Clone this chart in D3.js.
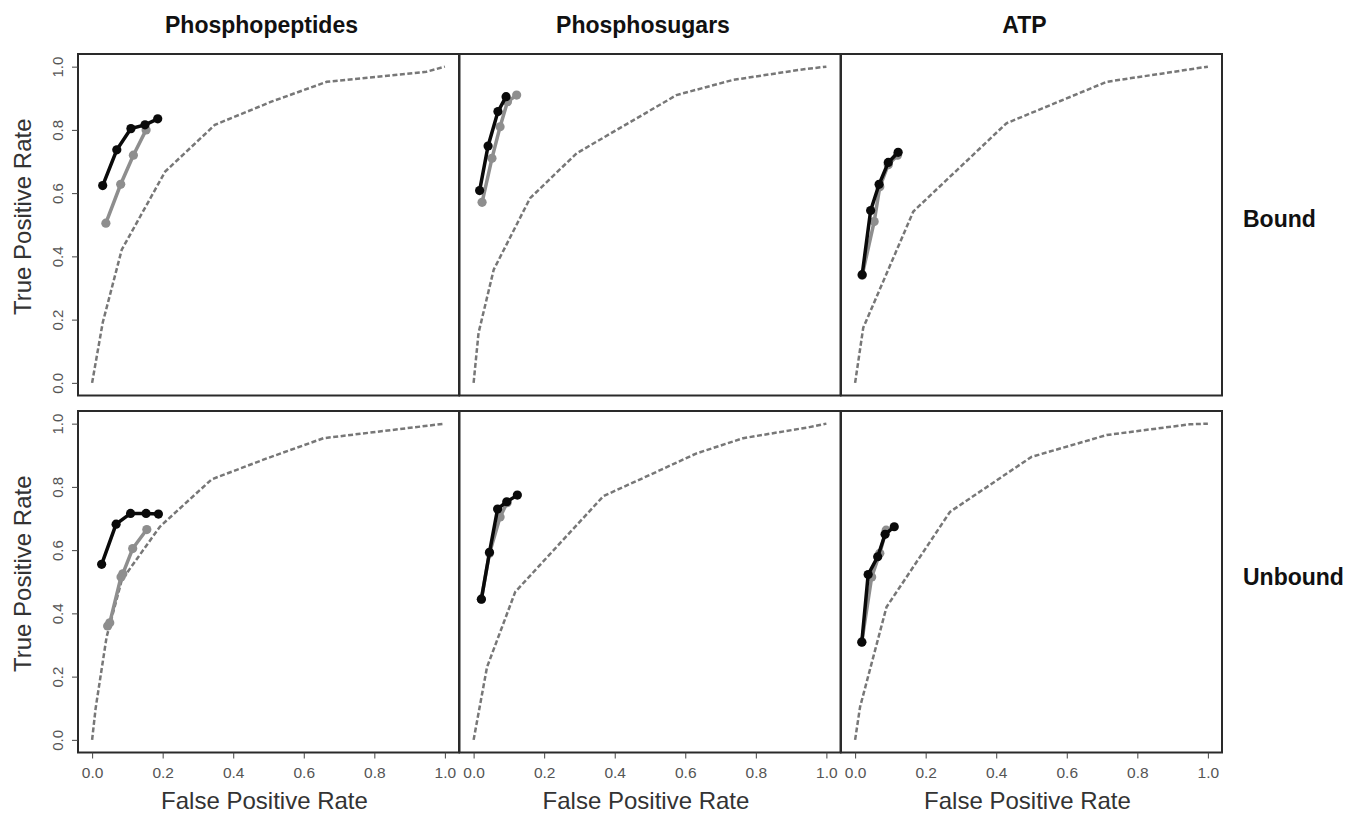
<!DOCTYPE html>
<html>
<head>
<meta charset="utf-8">
<script src="https://cdn.jsdelivr.net/npm/d3@7"></script>
<style>
  body { margin: 0; background: #fff; }
  svg { display: block; font-family: "Liberation Sans", Arial, Helvetica, sans-serif; }
</style>
</head>
<body>
<div id="chart"></div>
<script>
// column / row labels
const columns = ['Phosphopeptides', 'Phosphosugars', 'ATP'];
const rows = ['Bound', 'Unbound'];
const axisTicks = [0, 0.2, 0.4, 0.6, 0.8, 1.0];

// [false positive rate, true positive rate] pairs
// Phosphopeptides
const pepBoundBlack = [[0.03, 0.624], [0.07, 0.737], [0.11, 0.804], [0.15, 0.816], [0.186, 0.835]];
const pepBoundGray = [[0.039, 0.505], [0.081, 0.628], [0.117, 0.72], [0.153, 0.80]];
const pepBoundRandom = [[0, 0], [0.03, 0.19], [0.084, 0.421], [0.207, 0.668], [0.348, 0.816], [0.51, 0.89], [0.665, 0.952], [0.948, 0.984], [1, 1]];
const pepUnboundBlack = [[0.027, 0.555], [0.068, 0.682], [0.109, 0.716], [0.153, 0.716], [0.188, 0.714]];
const pepUnboundGray = [[0.044, 0.36], [0.05, 0.37], [0.082, 0.515], [0.087, 0.525], [0.115, 0.605], [0.155, 0.665]];
const pepUnboundRandom = [[0, 0], [0.01, 0.1], [0.041, 0.325], [0.084, 0.505], [0.192, 0.674], [0.339, 0.824], [0.495, 0.89], [0.656, 0.954], [1, 1]];

// Phosphosugars
const sugBoundBlack = [[0.017, 0.608], [0.041, 0.749], [0.069, 0.858], [0.092, 0.905]];
const sugBoundGray = [[0.024, 0.571], [0.052, 0.71], [0.075, 0.81], [0.096, 0.889], [0.122, 0.91]];
const sugBoundRandom = [[0, 0], [0.014, 0.158], [0.057, 0.358], [0.16, 0.584], [0.292, 0.726], [0.575, 0.91], [0.735, 0.958], [0.924, 0.99], [1, 1]];
const sugUnboundBlack = [[0.022, 0.445], [0.045, 0.593], [0.068, 0.73], [0.094, 0.753], [0.124, 0.774]];
const sugUnboundGray = [[0.022, 0.445], [0.045, 0.59], [0.075, 0.705], [0.095, 0.75]];
const sugUnboundRandom = [[0, 0], [0.038, 0.23], [0.118, 0.468], [0.368, 0.771], [0.5, 0.838], [0.632, 0.906], [0.764, 0.954], [0.952, 0.989], [1, 1]];

// ATP
const atpBoundBlack = [[0.02, 0.342], [0.044, 0.545], [0.068, 0.628], [0.094, 0.697], [0.122, 0.729]];
const atpBoundGray = [[0.02, 0.34], [0.054, 0.51], [0.07, 0.62], [0.094, 0.69], [0.12, 0.72]];
const atpBoundRandom = [[0, 0], [0.023, 0.174], [0.165, 0.542], [0.429, 0.821], [0.713, 0.952], [1, 1]];
const atpUnboundBlack = [[0.019, 0.309], [0.037, 0.523], [0.064, 0.579], [0.085, 0.65], [0.111, 0.674]];
const atpUnboundGray = [[0.019, 0.31], [0.047, 0.515], [0.07, 0.59], [0.088, 0.663]];
const atpUnboundRandom = [[0, 0], [0.014, 0.104], [0.089, 0.42], [0.269, 0.721], [0.5, 0.895], [0.713, 0.964], [0.949, 0.998], [1, 1]];

const panels = [
    [pepBoundRandom, pepBoundGray, pepBoundBlack],
    [sugBoundRandom, sugBoundGray, sugBoundBlack],
    [atpBoundRandom, atpBoundGray, atpBoundBlack],
    [pepUnboundRandom, pepUnboundGray, pepUnboundBlack],
    [sugUnboundRandom, sugUnboundGray, sugUnboundBlack],
    [atpUnboundRandom, atpUnboundGray, atpUnboundBlack]
];

const width = 1351;
const height = 813;
const colLeft = [78, 459.5, 841];
const panelW = 381;
const rowTop = [54, 411];
const panelH = 341.5;

const svg = d3.select('#chart')
    .append('svg')
    .attr('width', width)
    .attr('height', height);

const line = d3.line();

panels.forEach((series, i) => {
    const col = i % 3;
    const row = Math.floor(i / 3);
    const left = colLeft[col];
    const top = rowTop[row];

    const x = d3.scaleLinear().domain([-0.04, 1.04]).range([left, left + panelW]);
    const y = d3.scaleLinear().domain([-0.04, 1.04]).range([top + panelH, top]);
    line.x(d => x(d[0])).y(d => y(d[1]));

    const g = svg.append('g');

    // random baseline
    g.append('path')
        .attr('d', line(series[0]))
        .attr('fill', 'none')
        .attr('stroke', '#777')
        .attr('stroke-width', 2.5)
        .attr('stroke-dasharray', '5,2.5');

    // gray then black ROC curves
    [[series[1], '#8e8e8e'], [series[2], '#0a0a0a']].forEach(([pts, color]) => {
        g.append('path')
            .attr('d', line(pts))
            .attr('fill', 'none')
            .attr('stroke', color)
            .attr('stroke-width', 3.5);
        g.selectAll(null)
            .data(pts)
            .enter()
            .append('circle')
            .attr('cx', d => x(d[0]))
            .attr('cy', d => y(d[1]))
            .attr('r', 4.6)
            .attr('fill', color);
    });

    g.append('rect')
        .attr('x', left)
        .attr('y', top)
        .attr('width', panelW)
        .attr('height', panelH)
        .attr('fill', 'none')
        .attr('stroke', '#2a2a2a')
        .attr('stroke-width', 2);

    if (col === 0) {
        const yAxis = svg.append('g')
            .attr('transform', `translate(${left}, 0)`)
            .call(d3.axisLeft(y).tickValues(axisTicks).tickSize(6).tickFormat(d3.format('.1f')));
        yAxis.select('.domain').remove();
        yAxis.selectAll('line').attr('stroke', '#444').attr('stroke-width', 1);
        yAxis.selectAll('text')
            .attr('x', null)
            .attr('dy', null)
            .attr('transform', 'translate(-15, 0) rotate(-90)')
            .attr('text-anchor', 'middle')
            .attr('fill', '#555')
            .style('font-size', '15px');

        svg.append('text')
            .attr('transform', `translate(31, ${top + panelH / 2 - 8}) rotate(-90)`)
            .attr('text-anchor', 'middle')
            .attr('fill', '#333')
            .style('font-size', '24px')
            .text('True Positive Rate');
    }

    if (row === 1) {
        const xAxis = svg.append('g')
            .attr('transform', `translate(0, ${top + panelH})`)
            .call(d3.axisBottom(x).tickValues(axisTicks).tickSize(6).tickPadding(8).tickFormat(d3.format('.1f')));
        xAxis.select('.domain').remove();
        xAxis.selectAll('line').attr('stroke', '#444').attr('stroke-width', 1);
        xAxis.selectAll('text')
            .attr('fill', '#555')
            .style('font-size', '15.5px');

        svg.append('text')
            .attr('x', left + panelW / 2 - 4)
            .attr('y', 809)
            .attr('text-anchor', 'middle')
            .attr('fill', '#333')
            .style('font-size', '24px')
            .text('False Positive Rate');
    }

    if (row === 0) {
        svg.append('text')
            .attr('x', left + panelW / 2 - 7)
            .attr('y', 33)
            .attr('text-anchor', 'middle')
            .attr('fill', '#111')
            .style('font-size', '23px')
            .style('font-weight', 'bold')
            .text(columns[col]);
    }

    if (col === 2) {
        svg.append('text')
            .attr('x', 1243)
            .attr('y', row === 0 ? 227 : 585)
            .attr('fill', '#111')
            .style('font-size', '23px')
            .style('font-weight', 'bold')
            .text(rows[row]);
    }
});
</script>
</body>
</html>
